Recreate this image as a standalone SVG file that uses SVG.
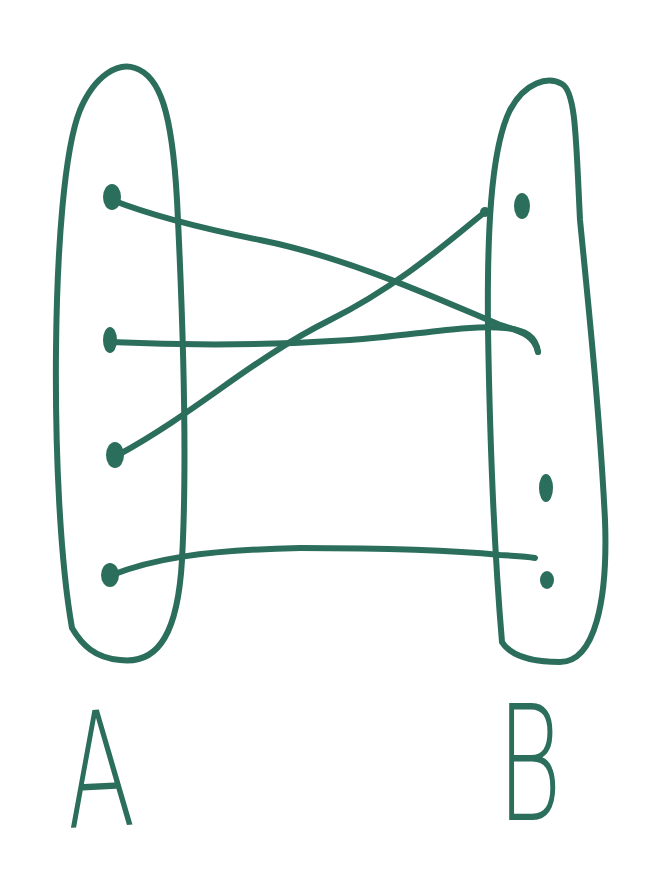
<svg xmlns="http://www.w3.org/2000/svg" width="662" height="890" viewBox="0 0 662 890">
<style>
.o{fill:none;stroke:#2b6e5b;stroke-width:6;stroke-linecap:round;stroke-linejoin:round}
.c{fill:none;stroke:#2b6e5b;stroke-width:6;stroke-linecap:round}
.d{fill:#2b6e5b}
.t{fill:#2b6e5b;font-family:"DejaVu Sans","Liberation Sans",sans-serif;font-weight:200;font-size:160px}
</style>
<rect width="662" height="890" fill="#ffffff"/>
<g id="setA">
<path class="o" d="M72,628 C60,560 55,450 56,350 C57,250 64,150 80,110 C95,75 118,62 135,68 C160,76 172,112 177,200 C182,300 188,450 182,560 C178,630 160,665 120,660 C95,658 82,645 72,628"/>
<ellipse class="d" cx="112" cy="197" rx="9" ry="13"/>
<ellipse class="d" cx="110" cy="340" rx="7" ry="13"/>
<ellipse class="d" cx="115" cy="455" rx="9" ry="13"/>
<ellipse class="d" cx="110" cy="575" rx="9" ry="12"/>
<text class="t" transform="translate(68,828) rotate(-3) scale(0.62,1)">A</text>
</g>
<g id="setB">
<path class="o" d="M502,642 C495,560 490,450 488,330 C487,240 490,150 510,110 C525,82 548,76 562,84 C576,92 576,140 580,220 C590,320 600,420 605,520 C608,600 595,662 560,662 C530,662 510,655 502,642"/>
<ellipse class="d" cx="522" cy="206" rx="8" ry="13"/>
<ellipse class="d" cx="546" cy="488" rx="7" ry="14"/>
<ellipse class="d" cx="547" cy="580" rx="7" ry="9"/>
<text class="t" transform="translate(497,820) scale(0.62,1)">B</text>
</g>
<g id="connectors">
<path class="c" d="M112,200 C150,215 200,228 260,240 C350,258 440,300 500,325 C525,332 535,338 538,352"/>
<path class="c" d="M110,342 C200,346 290,344 350,340 S470,324 505,328 C525,330 536,336 538,352"/>
<path class="c" d="M118,455 C200,410 250,360 330,320 C400,285 450,240 485,212"/>
<path class="c" d="M112,575 C150,560 200,550 300,548 C400,548 470,552 500,555 C515,556 525,556 535,558"/>
<circle class="d" cx="485" cy="212" r="5"/>
</g>
</svg>
